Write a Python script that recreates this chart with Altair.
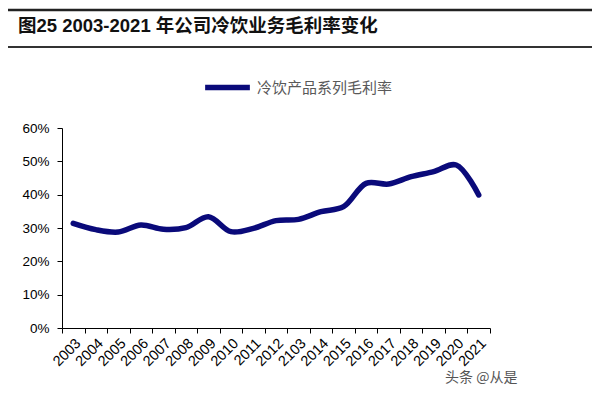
import altair as alt
import pandas as pd

years = ["2003", "2004", "2005", "2006", "2007", "2008", "2009", "2010", "2011", "2012",
         "2103", "2014", "2015", "2016", "2017", "2018", "2019", "2020", "2021"]
margin = [0.314, 0.295, 0.288, 0.309, 0.296, 0.301, 0.334, 0.289, 0.299, 0.322,
          0.326, 0.349, 0.364, 0.434, 0.432, 0.454, 0.469, 0.489, 0.399]
series_name = "冷饮产品系列毛利率"
title_text = "图25 2003-2021 年公司冷饮业务毛利率变化"
watermark = "头条 @从是"

df = pd.DataFrame({"year": years, "rate": margin, "series": [series_name] * len(years)})

FONT = "Liberation Sans, Arial, Noto Sans CJK SC"
CJK = "Noto Sans CJK SC"

line = alt.Chart(df).mark_line(
    interpolate="catmull-rom", strokeWidth=5.5, strokeCap="round", strokeJoin="round"
).encode(
    x=alt.X("year:N", sort=years, title=None,
            scale=alt.Scale(paddingInner=0, paddingOuter=0),
            axis=alt.Axis(labelAngle=315, tickBand="extent", labelFontSize=14.5,
                          labelColor="#000", labelFont=FONT, domainColor="#000",
                          tickColor="#000", tickSize=5, labelPadding=3, grid=False)),
    y=alt.Y("rate:Q", title=None,
            scale=alt.Scale(domain=[0, 0.6], nice=False),
            axis=alt.Axis(values=[0, 0.1, 0.2, 0.3, 0.4, 0.5, 0.6], format=".0%",
                          labelFontSize=13.5, labelColor="#000", labelFont=FONT,
                          domainColor="#000", tickColor="#000", tickSize=5,
                          labelPadding=8, grid=False)),
    color=alt.Color("series:N", scale=alt.Scale(range=["#0a0a7a"]),
                    legend=alt.Legend(title=None, orient="none", legendX=140, legendY=-66,
                                      symbolType="stroke", symbolStrokeWidth=5.5,
                                      symbolSize=2000, labelFont=CJK, labelFontSize=15,
                                      labelColor="#595959", labelOffset=4)),
)

one = pd.DataFrame({"a": [0]})

title = alt.Chart(one).mark_text(
    text=title_text, font=FONT, fontSize=18.5, fontWeight="bold", align="left",
    baseline="middle", color="#111"
).encode(x=alt.value(-44), y=alt.value(-102))

rule_top = alt.Chart(one).mark_rule(color="#222", strokeWidth=2.5).encode(
    x=alt.value(-62), x2=alt.value(530), y=alt.value(-118))
rule_bot = alt.Chart(one).mark_rule(color="#333", strokeWidth=2).encode(
    x=alt.value(-62), x2=alt.value(530), y=alt.value(-81))

wm = alt.Chart(one).mark_text(
    text=watermark, font=CJK, fontSize=14, align="left", baseline="middle", color="#555"
).encode(x=alt.value(383), y=alt.value(250))

chart = alt.layer(rule_top, rule_bot, title, line, wm).properties(
    width=428, height=200,
    padding={"left": 54, "top": 120, "right": 102, "bottom": 64},
    autosize=alt.AutoSizeParams(type="none"),
    background="#ffffff",
).configure_view(stroke=None)

chart.save("out.html", embed_options={"renderer": "svg", "actions": False})
